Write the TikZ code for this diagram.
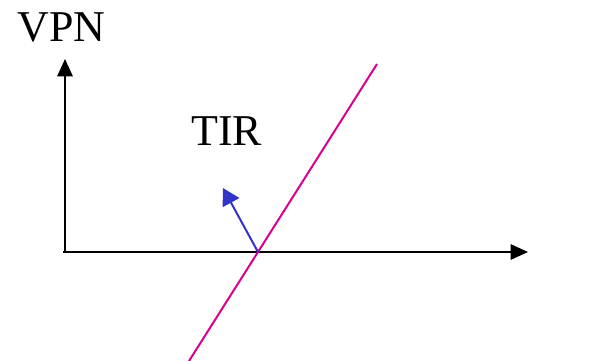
\documentclass[tikz,border=0pt]{standalone}
\usepackage{fontspec}
\setmainfont{Liberation Serif}
\usetikzlibrary{arrows.meta}
\definecolor{magline}{HTML}{D9008F}
\definecolor{bluearr}{HTML}{3333CC}
\tikzset{
  axis/.style={line width=1.5pt, -{Triangle[length=13pt,width=11.5pt]}},
  normalvec/.style={bluearr, line width=1.5pt, -{Triangle[length=12.5pt,width=14pt]}},
  planeline/.style={magline, line width=1.5pt},
  lbl/.style={anchor=base west, inner sep=0pt, font=\fontsize{33}{33}\selectfont}
}
\begin{document}
\begin{tikzpicture}[x=0.75pt,y=-0.75pt]
\useasboundingbox (0,0) rectangle (609,360);
\coordinate (O) at (63,252);
\coordinate (Ybase) at (65,253);
\coordinate (Ytip) at (65,59);
\coordinate (Xtip) at (528,252);
\coordinate (P) at (258,252);
\coordinate (Ntip) at (223,188);
\coordinate (Ltop) at (377,64);
\coordinate (Lbot) at (189,361);
\draw[axis] (Ybase) -- (Ytip);
\draw[axis] (O) -- (Xtip);
\draw[planeline] (Lbot) -- (Ltop);
\draw[normalvec] (P) -- (Ntip);
\node[lbl] (vpn) at (17,41) {VPN};
\node[lbl] (tir) at (191,145) {TIR};
\end{tikzpicture}
\end{document}
